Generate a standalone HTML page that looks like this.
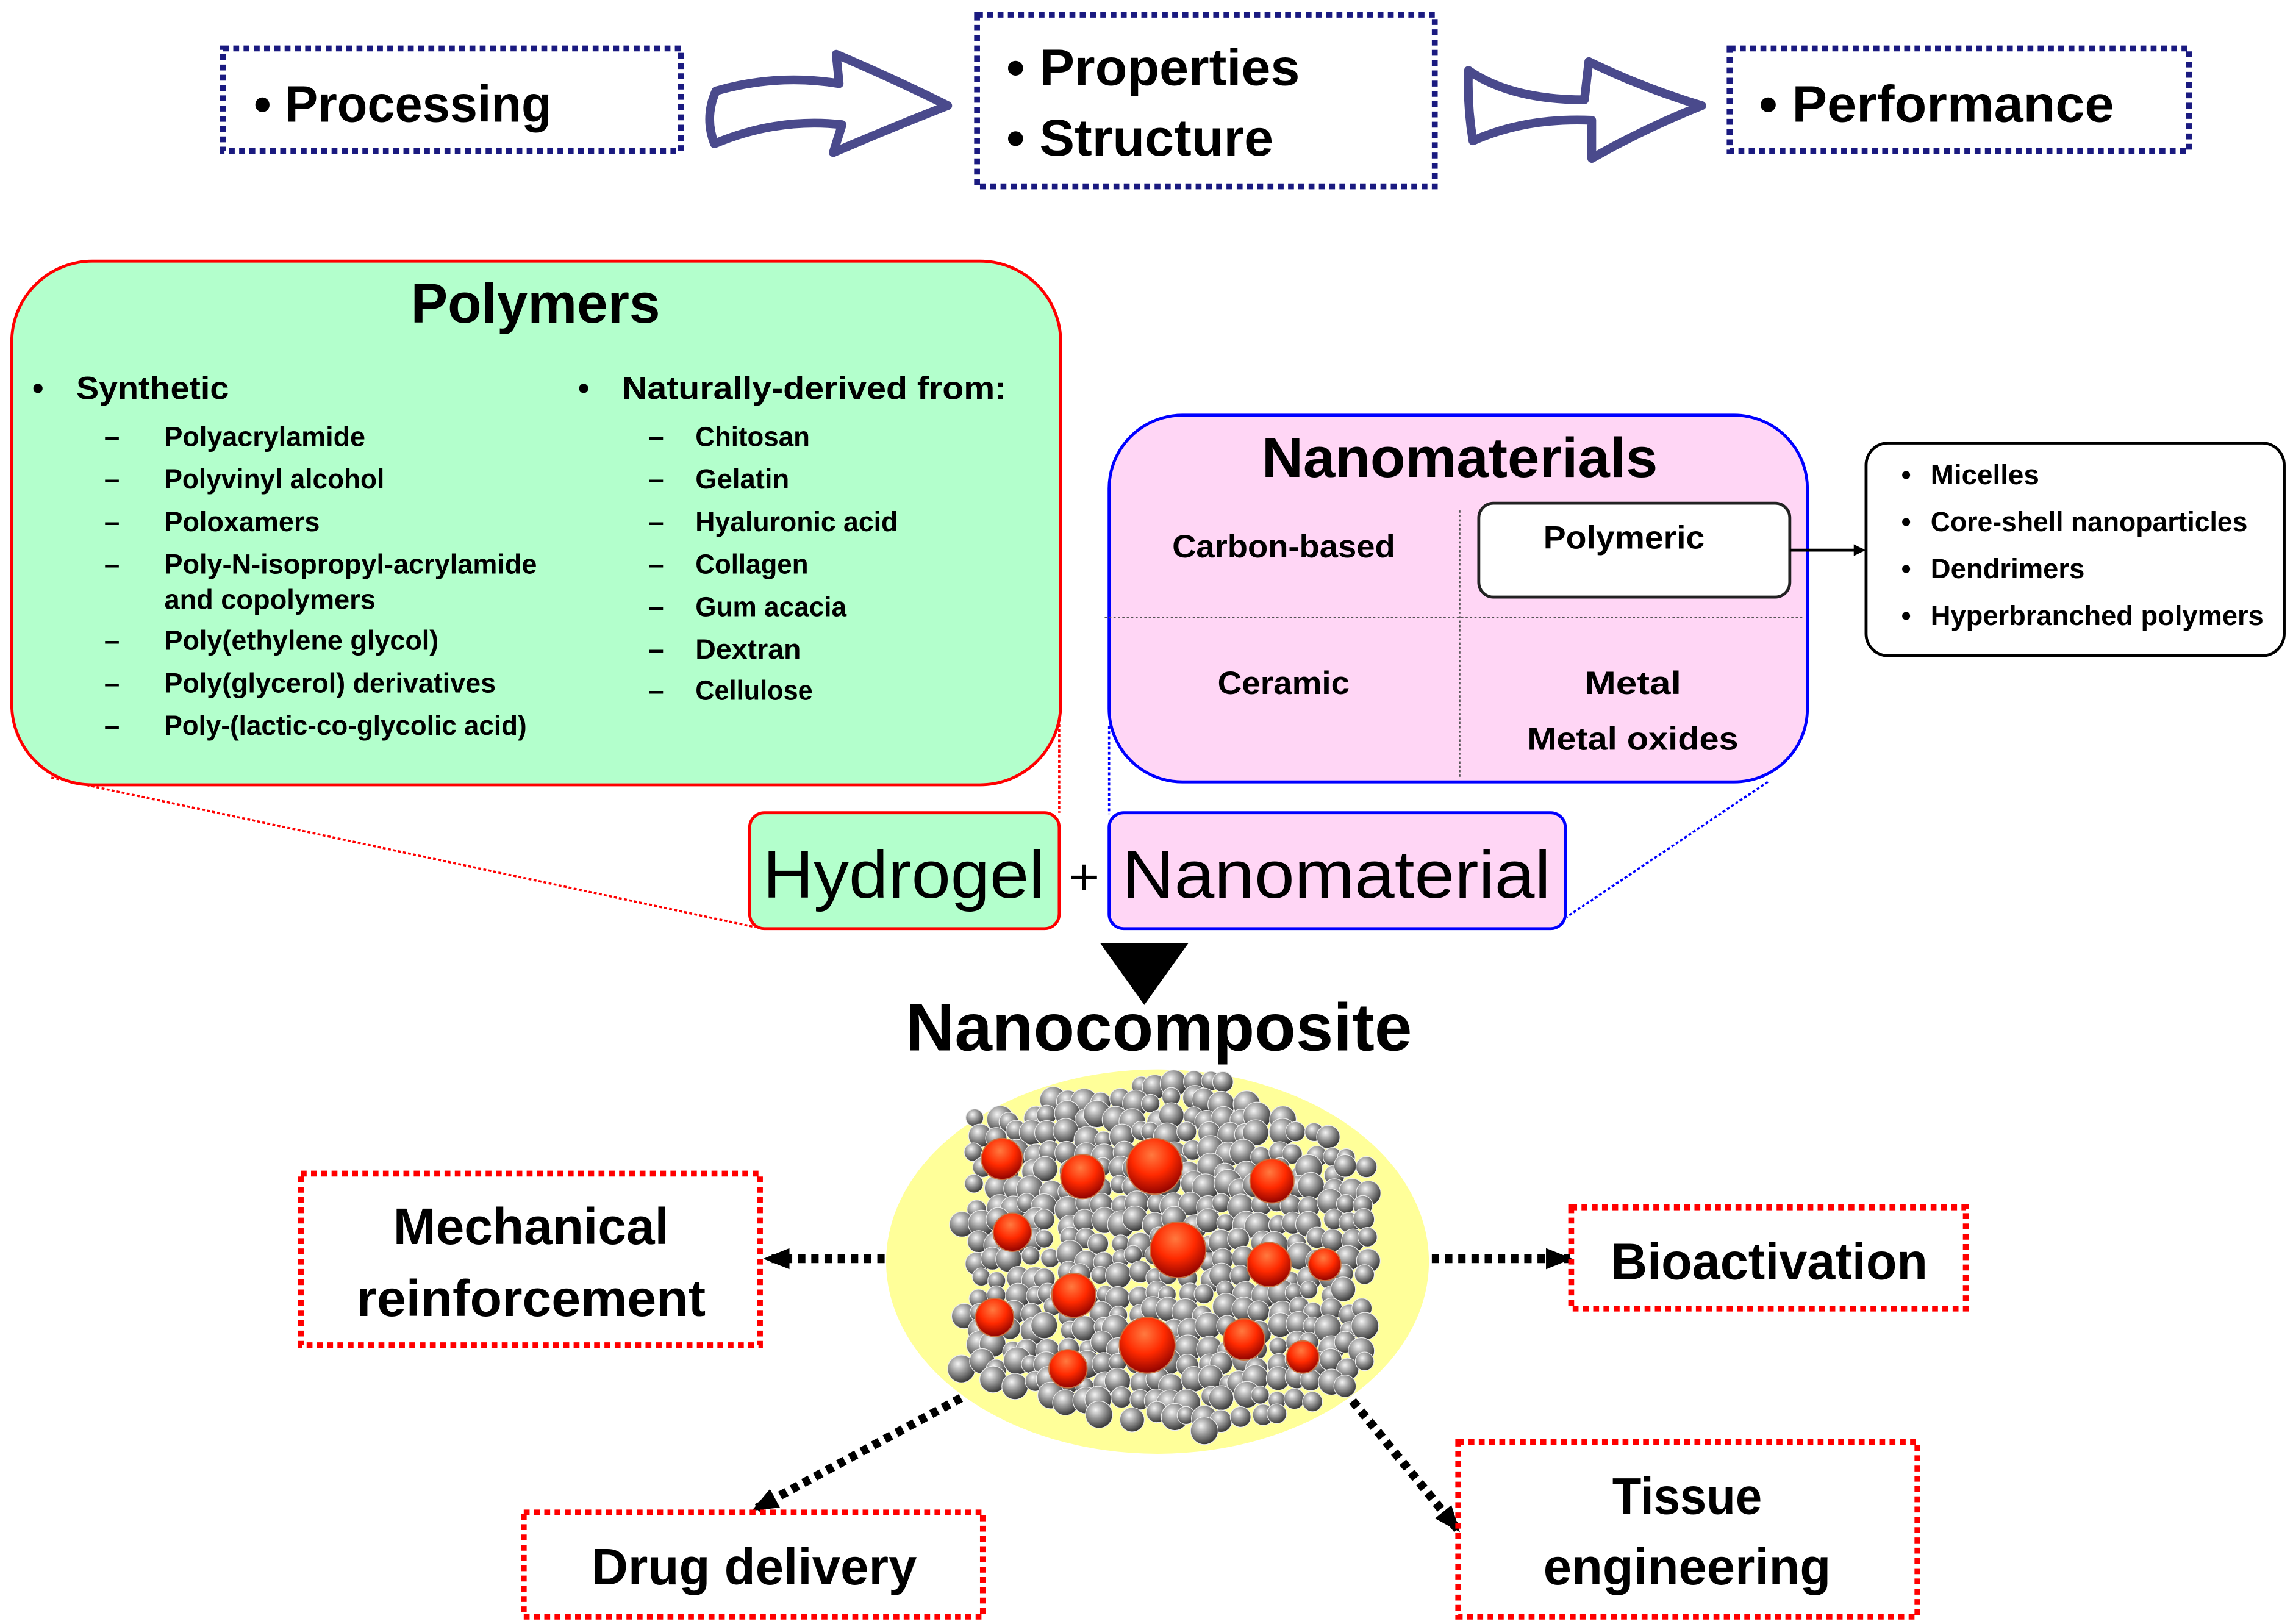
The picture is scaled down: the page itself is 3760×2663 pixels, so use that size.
<!DOCTYPE html>
<html><head><meta charset="utf-8">
<style>
html,body{margin:0;padding:0;background:#fff;}
svg{display:block;}
text{font-family:"Liberation Sans",sans-serif;font-weight:bold;fill:#000;}
</style></head>
<body>
<svg id="s" width="3760" height="2663" viewBox="0 0 1563 1107" xmlns="http://www.w3.org/2000/svg">
<defs>
<radialGradient id="g" cx="0.38" cy="0.32" r="0.7">
<stop offset="0" stop-color="#f4f4f4"/><stop offset="0.45" stop-color="#9a9a9a"/><stop offset="1" stop-color="#333"/>
</radialGradient>
<radialGradient id="rg" cx="0.45" cy="0.3" r="0.72">
<stop offset="0" stop-color="#ff7a40"/><stop offset="0.5" stop-color="#ff2a00"/><stop offset="1" stop-color="#8a0000"/>
</radialGradient>
<marker id="ah" viewBox="0 0 10 10" refX="8" refY="5" markerWidth="4" markerHeight="4" orient="auto"><path d="M0,0 L10,5 L0,10 Z" fill="#000"/></marker>
<marker id="ah2" viewBox="0 0 10 10" refX="9" refY="5" markerUnits="userSpaceOnUse" markerWidth="18" markerHeight="18" orient="auto"><path d="M0,1 L10,5 L0,9 Z" fill="#000"/></marker>
</defs>

<g fill="none" stroke="#1a1a80" stroke-width="4" stroke-dasharray="4 3">
<rect x="152" y="33" width="312" height="70"/>
<rect x="666" y="10" width="312" height="117"/>
<rect x="1179" y="33" width="313" height="70"/>
</g>
<text x="173" y="83" font-size="35" textLength="203" lengthAdjust="spacingAndGlyphs">• Processing</text>
<text x="686" y="58" font-size="35" textLength="200" lengthAdjust="spacingAndGlyphs">• Properties</text>
<text x="686" y="106" font-size="35" textLength="182" lengthAdjust="spacingAndGlyphs">• Structure</text>
<text x="1199" y="83" font-size="35" textLength="242" lengthAdjust="spacingAndGlyphs">• Performance</text>

<g fill="none" stroke="#4a4a8c" stroke-width="6" stroke-linejoin="round" stroke-linecap="round">
<path d="M488,62 Q530,50 572,57 L570,37 Q612,55 646,72 Q610,86 568,104 L574,85 Q530,80 487,98 Q480,80 488,62 Z"/>
<path d="M1001,48 Q1030,68 1080,68 L1083,42 Q1120,60 1160,72 Q1120,88 1085,108 L1085,82 Q1040,80 1004,96 Q1000,72 1001,48 Z"/>
</g>

<g fill="none" stroke-width="1.5" stroke-dasharray="2 1.5">
<line x1="35" y1="530" x2="515" y2="632" stroke="#ff0000"/>
<line x1="722" y1="490" x2="722" y2="554" stroke="#ff0000"/>
<line x1="756" y1="495" x2="756" y2="555" stroke="#0000ff"/>
<line x1="1205" y1="533" x2="1068" y2="625" stroke="#0000ff"/>
</g>

<rect x="8" y="178" width="715" height="357" rx="55" fill="#b3ffcc" stroke="#ff0000" stroke-width="2"/>
<text x="365" y="220" font-size="38" text-anchor="middle" textLength="170" lengthAdjust="spacingAndGlyphs">Polymers</text>
<g font-size="22">
<text x="22" y="272">•</text><text x="52" y="272" textLength="104" lengthAdjust="spacingAndGlyphs">Synthetic</text>
<text x="394" y="272">•</text><text x="424" y="272" textLength="262" lengthAdjust="spacingAndGlyphs">Naturally-derived from:</text>
</g>
<g font-size="19">
<text x="71" y="304">–</text><text x="112" y="304" textLength="137" lengthAdjust="spacingAndGlyphs">Polyacrylamide</text>
<text x="71" y="333">–</text><text x="112" y="333" textLength="150" lengthAdjust="spacingAndGlyphs">Polyvinyl alcohol</text>
<text x="71" y="362">–</text><text x="112" y="362" textLength="106" lengthAdjust="spacingAndGlyphs">Poloxamers</text>
<text x="71" y="391">–</text><text x="112" y="391" textLength="254" lengthAdjust="spacingAndGlyphs">Poly-N-isopropyl-acrylamide</text>
<text x="112" y="415" textLength="144" lengthAdjust="spacingAndGlyphs">and copolymers</text>
<text x="71" y="443">–</text><text x="112" y="443" textLength="187" lengthAdjust="spacingAndGlyphs">Poly(ethylene glycol)</text>
<text x="71" y="472">–</text><text x="112" y="472" textLength="226" lengthAdjust="spacingAndGlyphs">Poly(glycerol) derivatives</text>
<text x="71" y="501">–</text><text x="112" y="501" textLength="247" lengthAdjust="spacingAndGlyphs">Poly-(lactic-co-glycolic acid)</text>
<text x="442" y="304">–</text><text x="474" y="304" textLength="78" lengthAdjust="spacingAndGlyphs">Chitosan</text>
<text x="442" y="333">–</text><text x="474" y="333" textLength="64" lengthAdjust="spacingAndGlyphs">Gelatin</text>
<text x="442" y="362">–</text><text x="474" y="362" textLength="138" lengthAdjust="spacingAndGlyphs">Hyaluronic acid</text>
<text x="442" y="391">–</text><text x="474" y="391" textLength="77" lengthAdjust="spacingAndGlyphs">Collagen</text>
<text x="442" y="420">–</text><text x="474" y="420" textLength="103" lengthAdjust="spacingAndGlyphs">Gum acacia</text>
<text x="442" y="449">–</text><text x="474" y="449" textLength="72" lengthAdjust="spacingAndGlyphs">Dextran</text>
<text x="442" y="477">–</text><text x="474" y="477" textLength="80" lengthAdjust="spacingAndGlyphs">Cellulose</text>
</g>

<rect x="756" y="283" width="476" height="250" rx="50" fill="#ffd6f5" stroke="#0000ff" stroke-width="2"/>
<text x="995" y="325" font-size="38" text-anchor="middle" textLength="270" lengthAdjust="spacingAndGlyphs">Nanomaterials</text>
<g stroke="#555" stroke-width="1" stroke-dasharray="1.5 1.5">
<line x1="995" y1="348" x2="995" y2="530"/><line x1="753" y1="421" x2="1230" y2="421"/>
</g>
<rect x="1008" y="343" width="212" height="64" rx="10" fill="#fff" stroke="#222" stroke-width="2"/>
<g font-size="22" text-anchor="middle">
<text x="875" y="380" textLength="152" lengthAdjust="spacingAndGlyphs">Carbon-based</text>
<text x="1107" y="374" textLength="110" lengthAdjust="spacingAndGlyphs">Polymeric</text>
<text x="875" y="473" textLength="90" lengthAdjust="spacingAndGlyphs">Ceramic</text>
<text x="1113" y="473" textLength="66" lengthAdjust="spacingAndGlyphs">Metal</text>
<text x="1113" y="511" textLength="144" lengthAdjust="spacingAndGlyphs">Metal oxides</text>
</g>
<line x1="1220" y1="375" x2="1270" y2="375" stroke="#000" stroke-width="2" marker-end="url(#ah)"/>
<rect x="1272" y="302" width="285" height="145" rx="15" fill="#fff" stroke="#000" stroke-width="2"/>
<g font-size="19">
<text x="1296" y="330">•</text><text x="1316" y="330" textLength="74" lengthAdjust="spacingAndGlyphs">Micelles</text>
<text x="1296" y="362">•</text><text x="1316" y="362" textLength="216" lengthAdjust="spacingAndGlyphs">Core-shell nanoparticles</text>
<text x="1296" y="394">•</text><text x="1316" y="394" textLength="105" lengthAdjust="spacingAndGlyphs">Dendrimers</text>
<text x="1296" y="426">•</text><text x="1316" y="426" textLength="227" lengthAdjust="spacingAndGlyphs">Hyperbranched polymers</text>
</g>

<rect x="511" y="554" width="211" height="79" rx="10" fill="#b3ffcc" stroke="#ff0000" stroke-width="2"/>
<rect x="756" y="554" width="311" height="79" rx="10" fill="#ffd6f5" stroke="#0000ff" stroke-width="2"/>
<g font-size="46">
<text x="616" y="612" text-anchor="middle" style="font-weight:normal" textLength="192" lengthAdjust="spacingAndGlyphs">Hydrogel</text>
<text x="739" y="610" text-anchor="middle" style="font-weight:normal" font-size="36">+</text>
<text x="911" y="612" text-anchor="middle" style="font-weight:normal" textLength="292" lengthAdjust="spacingAndGlyphs">Nanomaterial</text>
</g>
<path d="M750,643 L810,643 L780,685 Z" fill="#000"/>
<text x="790" y="716" font-size="46" text-anchor="middle" textLength="345" lengthAdjust="spacingAndGlyphs">Nanocomposite</text>

<ellipse cx="789" cy="860" rx="185" ry="131" fill="#ffff99"/>
<g id="gray"></g>
<g id="red"></g>

<g stroke="#000" stroke-width="6" stroke-dasharray="5 4" fill="none">
<line x1="603" y1="858" x2="522" y2="858" marker-end="url(#ah2)"/>
<line x1="976" y1="858" x2="1070" y2="858" marker-end="url(#ah2)"/>
<line x1="655" y1="953" x2="514" y2="1029" marker-end="url(#ah2)"/>
<line x1="922" y1="955" x2="994" y2="1043" marker-end="url(#ah2)"/>
</g>

<g fill="none" stroke="#ff0000" stroke-width="4" stroke-dasharray="4 3">
<rect x="205" y="800" width="313" height="117"/>
<rect x="1071" y="823" width="269" height="69"/>
<rect x="357" y="1031" width="313" height="71"/>
<rect x="994" y="983" width="313" height="119"/>
</g>
<g font-size="35" text-anchor="middle">
<text x="362" y="848" textLength="188" lengthAdjust="spacingAndGlyphs">Mechanical</text>
<text x="362" y="897" textLength="238" lengthAdjust="spacingAndGlyphs">reinforcement</text>
<text x="1206" y="872" textLength="216" lengthAdjust="spacingAndGlyphs">Bioactivation</text>
<text x="514" y="1080" textLength="222" lengthAdjust="spacingAndGlyphs">Drug delivery</text>
<text x="1150" y="1032" textLength="102" lengthAdjust="spacingAndGlyphs">Tissue</text>
<text x="1150" y="1080" textLength="196" lengthAdjust="spacingAndGlyphs">engineering</text>
</g>
</svg>
<script>
(function(){
var NS="http://www.w3.org/2000/svg";
var poly=[[655,762],[720,745],[825,733],[935,790],[930,945],[840,978],[760,968],[655,935]];
function inside(x,y){var c=false;for(var i=0,j=poly.length-1;i<poly.length;j=i++){var xi=poly[i][0],yi=poly[i][1],xj=poly[j][0],yj=poly[j][1];if(((yi>y)!=(yj>y))&&(x<(xj-xi)*(y-yi)/(yj-yi)+xi))c=!c;}return c;}
var seed=7;function rnd(){seed=(seed*16807)%2147483647;return seed/2147483647;}
var g=document.getElementById("gray");
for(var y=738;y<980;y+=12){for(var x=655;x<940;x+=12){var px=x+(rnd()-0.5)*7,py=y+(rnd()-0.5)*7;if(!inside(px,py))continue;var c=document.createElementNS(NS,"circle");c.setAttribute("cx",px);c.setAttribute("cy",py);c.setAttribute("r",6+rnd()*3.5);c.setAttribute("fill","url(#g)");c.setAttribute("stroke","#eee");c.setAttribute("stroke-width","0.5");g.appendChild(c);}}
var reds=[[683,790,14],[738,802,15],[787,795,19],[867,805,15],[690,840,13],[803,852,19],[865,862,15],[903,862,11],[732,883,15],[678,898,13],[782,917,19],[848,913,14],[888,925,11],[728,933,13]];
var r=document.getElementById("red");
reds.forEach(function(a){var c=document.createElementNS(NS,"circle");c.setAttribute("cx",a[0]);c.setAttribute("cy",a[1]);c.setAttribute("r",a[2]);c.setAttribute("fill","url(#rg)");c.setAttribute("stroke","#c87040");c.setAttribute("stroke-width","0.8");r.appendChild(c);});
})();
</script>
</body></html>
